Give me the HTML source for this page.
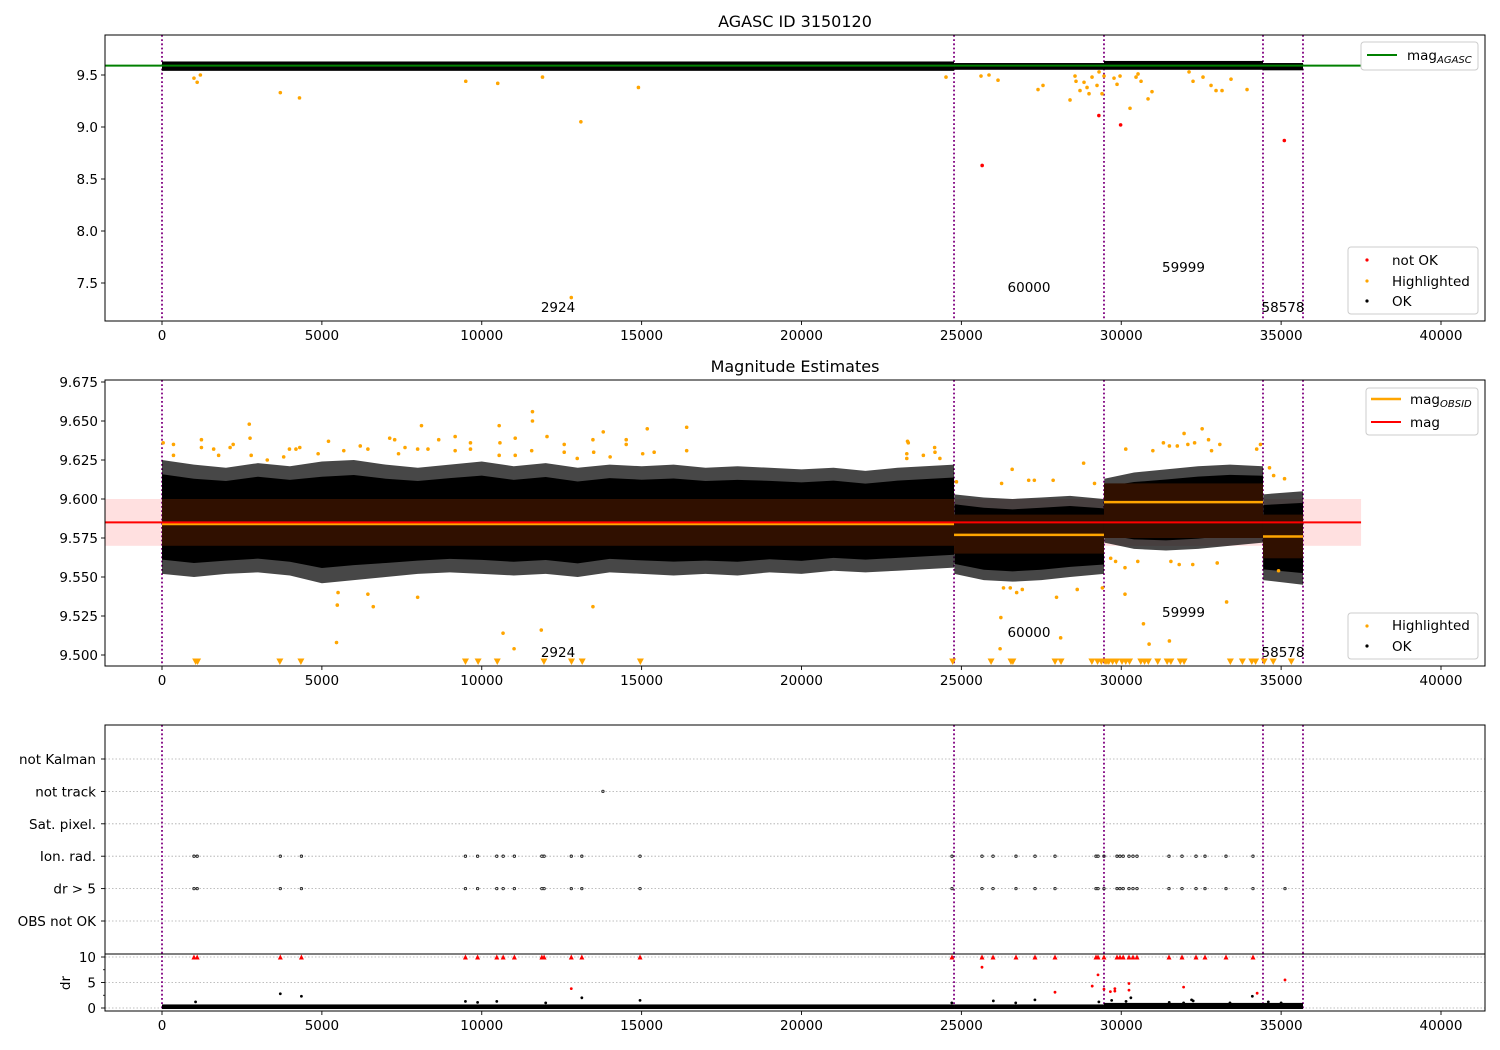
<!DOCTYPE html>
<html><head><meta charset="utf-8"><title>AGASC ID 3150120</title>
<style>
html,body{margin:0;padding:0;background:#fff;}
svg{display:block;font-family:"DejaVu Sans","Liberation Sans",sans-serif;}
</style></head>
<body>
<svg id="fig" width="1500" height="1050" viewBox="0 0 1500 1050" xmlns="http://www.w3.org/2000/svg">
<rect width="1500" height="1050" fill="#fff"/>
<g id="g1"></g>
<g id="g2"></g>
<g id="g3"></g>
</svg>
<script>
// ---- shared data ----
const obsBoundaries = [0, 24770, 29460, 34433, 35684];
const obsLabels = ["2924", "60000", "59999", "58578"];
const xTicks = [0, 5000, 10000, 15000, 20000, 25000, 30000, 35000, 40000];
const agascMag = 9.59;
const meanMag = 9.585;
const magStd = [9.570, 9.600];
const obsidMag = [9.584, 9.577, 9.598, 9.576];
const obsidBandLo = [9.570, 9.565, 9.575, 9.562];
const obsidBandHi = [9.600, 9.590, 9.610, 9.590];
// panel 1 per-obs cloud range
const p1CloudLo = [9.540, 9.550, 9.550, 9.545];
const p1CloudHi = [9.630, 9.615, 9.635, 9.615];
// panel 2 envelopes
const envX = [0,1000,2000,3000,4000,5000,6000,7000,8000,9000,10000,11000,12000,13000,14000,15000,16000,17000,18000,19000,20000,21000,22000,23000,24770,
  24780,25700,26600,27500,28400,29460, 29470,30400,31400,32400,33400,34433, 34440,35684];
const envHi = [9.625,9.622,9.620,9.623,9.621,9.624,9.625,9.622,9.620,9.622,9.624,9.621,9.623,9.620,9.622,9.621,9.622,9.620,9.621,9.620,9.619,9.620,9.618,9.620,9.622,
  9.603,9.601,9.600,9.601,9.602,9.600, 9.613,9.617,9.619,9.621,9.622,9.621, 9.603,9.605];
const envLo = [9.552,9.550,9.552,9.553,9.551,9.546,9.548,9.550,9.552,9.553,9.552,9.551,9.552,9.550,9.553,9.552,9.551,9.552,9.551,9.553,9.552,9.554,9.553,9.554,9.556,
  9.552,9.548,9.547,9.548,9.550,9.552, 9.572,9.568,9.567,9.568,9.570,9.572, 9.548,9.545];
// panel 1 outliers
const p1HighX = [1000,1100,1200,3700,4300,9500,10500,11900,13100,14900,12800,24519,25614,25864,26146,27397,27553,28398,28554,28585,28710,28836,28930,28992,29086,29242,29305,29399,29461,29774,29868,29962,30274,30462,30525,30619,30838,30962,32120,32245,32557,32808,32964,33152,33433,33934];
const p1HighY = [9.47,9.43,9.50,9.33,9.28,9.44,9.42,9.48,9.05,9.38,7.36,9.48,9.49,9.50,9.45,9.36,9.40,9.26,9.49,9.44,9.35,9.43,9.38,9.32,9.48,9.40,9.53,9.32,9.49,9.47,9.41,9.49,9.18,9.48,9.51,9.44,9.27,9.34,9.53,9.44,9.48,9.40,9.35,9.35,9.46,9.36];
const p1BadX = [25650, 29300, 29980, 35100];
const p1BadY = [8.63, 9.11, 9.02, 8.87];
// panel 2 highlighted
const p2HighX = [36,359,359,1233,1233,1616,1771,2130,2226,2729,2753,2789,3292,3806,3986,4189,4309,4883,5207,5685,6200,6439,7121,7277,7397,7600,7995,8115,8318,8654,9168,9168,9647,9647,10545,10569,10545,11047,11047,11586,11586,11562,12041,12579,12579,12986,13477,13501,13800,14015,14518,14518,15033,15176,15392,16409,16409,
  5506,5482,6439,6607,5458,7995,10666,11011,11862,13477,
  23316,23340,23293,23293,23811,24164,24175,24328,24846,26258,26588,27105,27282,27870,28823,29164,30141,30988,31318,31506,31753,31965,32083,32294,32530,32730,32824,33083,34236,34354,34636,34766,35107,
  26317,26529,26729,26905,27976,28623,26235,26211,28105,29411,29670,29823,30117,30117,30517,30694,30871,31506,31553,31812,32236,33001,33295,34919];
const p2HighY = [9.636,9.635,9.628,9.638,9.633,9.632,9.628,9.633,9.635,9.648,9.639,9.628,9.625,9.627,9.632,9.632,9.633,9.629,9.637,9.631,9.634,9.632,9.639,9.638,9.629,9.633,9.632,9.647,9.632,9.638,9.640,9.631,9.636,9.632,9.647,9.636,9.628,9.639,9.628,9.656,9.650,9.631,9.640,9.635,9.630,9.626,9.638,9.630,9.643,9.627,9.638,9.635,9.629,9.645,9.630,9.646,9.631,
  9.540,9.532,9.539,9.531,9.508,9.537,9.514,9.504,9.516,9.531,
  9.637,9.636,9.629,9.626,9.628,9.633,9.630,9.626,9.611,9.610,9.619,9.612,9.612,9.612,9.623,9.610,9.632,9.631,9.636,9.634,9.634,9.642,9.635,9.636,9.645,9.638,9.631,9.635,9.632,9.635,9.620,9.615,9.613,
  9.543,9.543,9.540,9.542,9.537,9.542,9.524,9.504,9.511,9.543,9.562,9.560,9.556,9.539,9.560,9.520,9.507,9.509,9.560,9.558,9.558,9.559,9.534,9.554];
const p2ClipX = [1053,1113,3686,4344,9491,9886,10485,11945,12807,13142,14961,24728,25929,26552,26611,27929,28117,29082,29259,29376,29494,29553,29612,29729,29847,30024,30141,30259,30612,30729,30847,31141,31435,31553,31847,31965,33412,33789,34083,34201,34471,34754,35319];
// panel 3 flags
const flagCategories = ["not Kalman", "not track", "Sat. pixel.", "Ion. rad.", "dr > 5", "OBS not OK"];
const ionRadX = [1000,1100,3700,4360,9490,9870,10470,10670,11020,11880,11950,12800,13130,14950,24707,25645,25990,26708,27303,27928,29210,29273,29460,29867,29961,30060,30242,30367,30492,31493,31900,32338,32619,33276,34120];
const drGt5X = [1000,1100,3700,4360,9490,9870,10470,10670,11020,11880,11950,12800,13130,14950,24707,25645,25990,26708,27303,27928,29210,29273,29460,29867,29961,30060,30242,30367,30492,31493,31900,32338,32619,33276,34120,35121];
const notTrackX = [13790];
const drTicks = [0, 5, 10];
const drRedX = [12800,25645,29273,29092,29460,29660,29800,30242,30242,29800,27928,31950,35121,34250];
const drRedY = [3.8,8.0,6.5,4.3,3.7,3.2,3.3,4.8,3.5,3.8,3.1,4.1,5.5,2.9];
const drBlackX = [1050,3700,4360,9490,9870,10470,12000,13130,14950,24700,26000,26700,27300,29300,29700,30150,30300,31500,31950,32200,32250,33400,34100,34600,35000];
const drBlackY = [1.2,2.8,2.3,1.3,1.1,1.3,1.0,2.0,1.5,1.0,1.4,1.0,1.6,1.2,1.5,1.3,2.0,1.1,1.0,1.6,1.4,1.0,2.3,1.2,1.0];
const drBaseHi = [0.7, 0.7, 1.0, 1.0];

// ---- helpers ----
const NS = "http://www.w3.org/2000/svg";
function mk(parent, tag, attrs, text) {
  const e = document.createElementNS(NS, tag);
  for (const k in attrs) e.setAttribute(k, attrs[k]);
  if (text !== undefined) e.textContent = text;
  parent.appendChild(e);
  return e;
}
const AX_L = 105, AX_R = 1485;
function X(v) { return 162 + v * 0.031975; }
const P1 = { top: 35, bot: 321, y: m => 75 - (m - 9.5) * 104 };
const P2 = { top: 380, bot: 666, y: m => 499 - (m - 9.6) * 1560 };
const P3 = { top: 725, mid: 954, bot: 1011, cat: i => 759 + i * 32.4, dr: d => 1008 - d * 5.1 };

function clip(id, top, bot) {
  const defs = mk(document.getElementById('fig'), 'defs', {});
  const c = mk(defs, 'clipPath', { id: id });
  mk(c, 'rect', { x: AX_L, y: top, width: AX_R - AX_L, height: bot - top });
}
function xAxis(g, bot) {
  xTicks.forEach(t => {
    const x = X(t);
    const tk = mk(g, 'line', { x1: x, x2: x, y1: bot, y2: bot + 4, stroke: '#000', 'stroke-width': 0.9 });
    
    
    const lb = mk(g, 'text', { x: x, y: bot + 19, 'font-size': 13.5, 'text-anchor': 'middle' }, String(t));
    
    
  });
}
function yAxis(g, ticks, yf, fmt) {
  ticks.forEach(t => {
    const y = yf(t);
    const tk = mk(g, 'line', { x1: AX_L - 4, x2: AX_L, y1: y, y2: y, stroke: '#000', 'stroke-width': 0.9 });
    
    
    const lb = mk(g, 'text', { x: AX_L - 7, y: y + 5, 'font-size': 13.5, 'text-anchor': 'end' }, fmt(t));
    
    
  });
}
function vlines(g, top, bot) {
  obsBoundaries.forEach(b => {
    const l = mk(g, 'line', { x1: X(b), x2: X(b), y1: top, y2: bot, stroke: 'purple', 'stroke-width': 1.8, 'stroke-dasharray': '1.8,2.4' });
    
    
  });
}
function frame(g, top, bot) {
  const r = mk(g, 'rect', { x: AX_L, y: top, width: AX_R - AX_L, height: bot - top, fill: 'none', stroke: '#000', 'stroke-width': 1 });
  
  
}
function dot(g, x, y, r, color, name) {
  const c = mk(g, 'circle', { cx: x, cy: y, r: r, fill: color });
  
  
  return c;
}
function ring(g, x, y, name) {
  const c = mk(g, 'circle', { cx: x, cy: y, r: 1.2, fill: 'none', stroke: '#222', 'stroke-width': 0.9 });
  
  
}
function tri(g, x, y, color, name) {
  const p = mk(g, 'polygon', { points: `${x - 3.5},${y - 3.5} ${x + 3.5},${y - 3.5} ${x},${y + 3}`, fill: color });
  
  
}
function obsText(g, yf) {
  obsLabels.forEach((s, i) => {
    const mid = (obsBoundaries[i] + obsBoundaries[i + 1]) / 2;
    const t = mk(g, 'text', { x: X(mid), y: yf(i), 'font-size': 13.5, 'text-anchor': 'middle' }, s);
    
    
  });
}
function legend(g, x, y, w, h) {
  const r = mk(g, 'rect', { x: x, y: y, width: w, height: h, rx: 3, fill: 'rgba(255,255,255,0.85)', stroke: '#ccc', 'stroke-width': 1 });
  
  
}
function legendText(g, x, y, s, sub) {
  const t = mk(g, 'text', { x: x, y: y, 'font-size': 13.5 }, s);
  
  
  if (sub) {
    mk(t, 'tspan', { 'font-size': 10, 'font-style': 'italic', dy: 3 }, sub);
  }
}

// ---- Panel 1 ----
(function () {
  const g = document.getElementById('g1');
  clip('c1', P1.top, P1.bot);
  const title = mk(g, 'text', { x: 795, y: 27, 'font-size': 16, 'text-anchor': 'middle' }, 'AGASC ID 3150120');
  
  
  const pg = mk(g, 'g', { 'clip-path': 'url(#c1)' });
  vlines(pg, P1.top, P1.bot);
  for (let i = 0; i < 4; i++) {
    const x0 = X(obsBoundaries[i]), x1 = X(obsBoundaries[i + 1]);
    const r = mk(pg, 'rect', { x: x0, y: P1.y(p1CloudHi[i]), width: x1 - x0, height: P1.y(p1CloudLo[i]) - P1.y(p1CloudHi[i]), fill: '#000' });
    
    
  }
  const gl = mk(pg, 'line', { x1: AX_L, x2: X(37500), y1: P1.y(agascMag), y2: P1.y(agascMag), stroke: 'green', 'stroke-width': 2 });
  
  
  p1HighX.forEach((v, i) => dot(pg, X(v), P1.y(p1HighY[i]), 1.8, 'orange', 'highlighted-point'));
  p1BadX.forEach((v, i) => dot(pg, X(v), P1.y(p1BadY[i]), 1.8, 'red', 'not-ok-point'));
  const lbY = [312, 292, 272, 312];
  obsText(g, i => lbY[i]);
  frame(g, P1.top, P1.bot);
  xAxis(g, P1.bot);
  yAxis(g, [9.5, 9.0, 8.5, 8.0, 7.5], P1.y, t => t.toFixed(1));
  legend(g, 1361, 42, 117, 28);
  const ll = mk(g, 'line', { x1: 1367, x2: 1397, y1: 55, y2: 55, stroke: 'green', 'stroke-width': 2 });
  
  
  legendText(g, 1407, 60, 'mag', 'AGASC');
  legend(g, 1348, 247, 130, 67);
  dot(g, 1367, 260, 1.6, 'red', 'legend-not-ok-marker');
  legendText(g, 1392, 265, 'not OK');
  dot(g, 1367, 281, 1.6, 'orange', 'legend-highlighted-marker');
  legendText(g, 1392, 286, 'Highlighted');
  dot(g, 1367, 301, 1.6, '#000', 'legend-ok-marker');
  legendText(g, 1392, 306, 'OK');
})();

// ---- Panel 2 ----
(function () {
  const g = document.getElementById('g2');
  clip('c2', P2.top, P2.bot);
  const title = mk(g, 'text', { x: 795, y: 372, 'font-size': 16, 'text-anchor': 'middle' }, 'Magnitude Estimates');
  
  
  const pg = mk(g, 'g', { 'clip-path': 'url(#c2)' });
  const pb = mk(pg, 'rect', { x: AX_L, y: P2.y(magStd[1]), width: X(37500) - AX_L, height: P2.y(magStd[0]) - P2.y(magStd[1]), fill: '#ffe0e0' });
  
  
  vlines(pg, P2.top, P2.bot);
  let start = 0;
  for (let s = 0; s < 4; s++) {
    let end = start;
    while (end + 1 < envX.length && envX[end + 1] > envX[end] && envX[end + 1] <= obsBoundaries[s + 1] + 1) end++;
    const up = [], lo = [], upIn = [], loIn = [];
    for (let k = start; k <= end; k++) {
      const mid = (envHi[k] + envLo[k]) / 2;
      up.push(`${X(envX[k])},${P2.y(envHi[k])}`);
      lo.unshift(`${X(envX[k])},${P2.y(envLo[k])}`);
      upIn.push(`${X(envX[k])},${P2.y(mid + (envHi[k] - mid) * 0.75)}`);
      loIn.unshift(`${X(envX[k])},${P2.y(mid - (mid - envLo[k]) * 0.75)}`);
    }
    const o = mk(pg, 'polygon', { points: up.concat(lo).join(' '), fill: '#000', 'fill-opacity': 0.72 });
    
    
    const n = mk(pg, 'polygon', { points: upIn.concat(loIn).join(' '), fill: '#000' });
    
    
    const x0 = X(obsBoundaries[s]), x1 = X(obsBoundaries[s + 1]);
    const b = mk(pg, 'rect', { x: x0, y: P2.y(obsidBandHi[s]), width: x1 - x0, height: P2.y(obsidBandLo[s]) - P2.y(obsidBandHi[s]), fill: '#301000' });
    
    
    start = end + 1;
  }
  for (let s = 0; s < 4; s++) {
    const l = mk(pg, 'line', { x1: X(obsBoundaries[s]), x2: X(obsBoundaries[s + 1]), y1: P2.y(obsidMag[s]), y2: P2.y(obsidMag[s]), stroke: 'orange', 'stroke-width': 2.5 });
    
    
  }
  const rl = mk(pg, 'line', { x1: AX_L, x2: X(37500), y1: P2.y(meanMag), y2: P2.y(meanMag), stroke: 'red', 'stroke-width': 2 });
  
  
  p2HighX.forEach((v, i) => dot(pg, X(v), P2.y(p2HighY[i]), 1.8, 'orange', 'highlighted-point'));
  p2ClipX.forEach(v => tri(pg, X(v), 662, 'orange', 'highlighted-clipped-marker'));
  const lbY = [657, 637, 617, 657];
  obsText(g, i => lbY[i]);
  frame(g, P2.top, P2.bot);
  xAxis(g, P2.bot);
  yAxis(g, [9.675, 9.65, 9.625, 9.6, 9.575, 9.55, 9.525, 9.5], P2.y, t => t.toFixed(3));
  legend(g, 1366, 388, 112, 47);
  const l1 = mk(g, 'line', { x1: 1371, x2: 1401, y1: 399, y2: 399, stroke: 'orange', 'stroke-width': 2.5 });
  
  
  legendText(g, 1410, 404, 'mag', 'OBSID');
  const l2 = mk(g, 'line', { x1: 1371, x2: 1401, y1: 422, y2: 422, stroke: 'red', 'stroke-width': 2 });
  
  
  legendText(g, 1410, 427, 'mag');
  legend(g, 1348, 613, 130, 46);
  dot(g, 1367, 626, 1.6, 'orange', 'legend-highlighted-marker');
  legendText(g, 1392, 630, 'Highlighted');
  dot(g, 1367, 646, 1.6, '#000', 'legend-ok-marker');
  legendText(g, 1392, 651, 'OK');
})();

// ---- Panel 3 ----
(function () {
  const g = document.getElementById('g3');
  clip('c3', P3.top, P3.bot);
  const pg = mk(g, 'g', { 'clip-path': 'url(#c3)' });
  flagCategories.forEach((c, i) => {
    const y = P3.cat(i);
    const gl = mk(pg, 'line', { x1: AX_L, x2: AX_R, y1: y, y2: y, stroke: '#aaa', 'stroke-width': 0.8, 'stroke-dasharray': '1.5,2' });
    
    
    const tk = mk(g, 'line', { x1: AX_L - 4, x2: AX_L, y1: y, y2: y, stroke: '#000', 'stroke-width': 0.9 });
    
    
    const t = mk(g, 'text', { x: AX_L - 9, y: y + 5, 'font-size': 13.5, 'text-anchor': 'end' }, c);
    
    
  });
  drTicks.forEach(d => {
    const y = P3.dr(d);
    const gl = mk(pg, 'line', { x1: AX_L, x2: AX_R, y1: y, y2: y, stroke: '#aaa', 'stroke-width': 0.8, 'stroke-dasharray': '1.5,2' });
    
    
    const tk = mk(g, 'line', { x1: AX_L - 4, x2: AX_L, y1: y, y2: y, stroke: '#000', 'stroke-width': 0.9 });
    
    
    const t = mk(g, 'text', { x: AX_L - 9, y: y + 5, 'font-size': 13.5, 'text-anchor': 'end' }, String(d));
    
    
  });
  [2.5, 7.5].forEach(d => {
    const tk = mk(g, 'line', { x1: AX_L - 2, x2: AX_L, y1: P3.dr(d), y2: P3.dr(d), stroke: '#000', 'stroke-width': 0.8 });
    
    
  });
  const yl = mk(g, 'text', { x: 0, y: 0, 'font-size': 13.5, 'text-anchor': 'middle', transform: 'translate(70,983) rotate(-90)' }, 'dr');
  
  
  vlines(pg, P3.top, P3.bot);
  const fy = i => P3.cat(i);
  ionRadX.forEach(v => ring(pg, X(v), fy(3), 'ion-rad-flag'));
  drGt5X.forEach(v => ring(pg, X(v), fy(4), 'dr-gt-5-flag'));
  notTrackX.forEach(v => ring(pg, X(v), fy(1), 'not-track-flag'));
  for (let s = 0; s < 4; s++) {
    const x0 = X(obsBoundaries[s]), x1 = X(obsBoundaries[s + 1]);
    const r = mk(pg, 'rect', { x: x0, y: P3.dr(drBaseHi[s]), width: x1 - x0, height: P3.dr(-0.2) - P3.dr(drBaseHi[s]), fill: '#000' });
    
    
  }
  drBlackX.forEach((v, i) => dot(pg, X(v), P3.dr(drBlackY[i]), 1.4, '#000', 'dr-point'));
  drRedX.forEach((v, i) => dot(pg, X(v), P3.dr(drRedY[i]), 1.4, 'red', 'dr-not-ok-point'));
  ionRadX.forEach(v => {
    const x = X(v), y = P3.dr(10);
    const p = mk(pg, 'polygon', { points: `${x - 2.5},${y + 2.5} ${x + 2.5},${y + 2.5} ${x},${y - 2.5}`, fill: 'red' });
    
    
  });
  frame(g, P3.top, P3.bot);
  const sep = mk(g, 'line', { x1: AX_L, x2: AX_R, y1: P3.mid, y2: P3.mid, stroke: '#000', 'stroke-width': 1 });
  
  
  xAxis(g, P3.bot);
})();
</script>
</body></html>
